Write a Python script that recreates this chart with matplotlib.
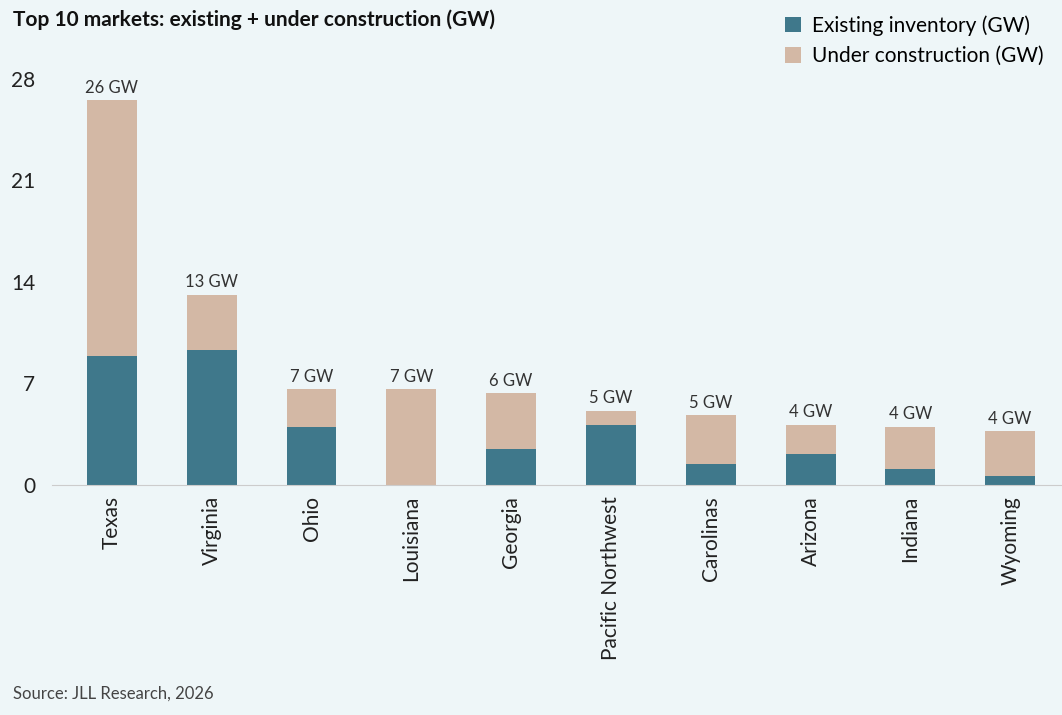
import matplotlib
matplotlib.use("Agg")
from matplotlib import pyplot as plt
import numpy as np

plt.rcParams['font.family'] = ['Lato', 'DejaVu Sans']

markets = ["Texas", "Virginia", "Ohio", "Louisiana", "Georgia", "Pacific Northwest",
           "Carolinas", "Arizona", "Indiana", "Wyoming"]
existing = [8.9, 9.3, 4.0, 0.0, 2.5, 4.1, 1.45, 2.15, 1.1, 0.6]
construction = [17.6, 3.8, 2.6, 6.6, 3.8, 1.0, 3.35, 2.0, 2.9, 3.1]
labels = ["26 GW", "13 GW", "7 GW", "7 GW", "6 GW", "5 GW", "5 GW", "4 GW", "4 GW", "4 GW"]

bg = "#eef6f8"
fig = plt.figure(figsize=(10.62, 7.15), dpi=100, facecolor=bg)
ax = fig.add_axes([0.049, 0.322, 0.9586, 0.568], facecolor=bg)

x = np.arange(len(markets))
ax.bar(x, existing, 0.5, color="#3f788b", label="Existing inventory (GW)")
ax.bar(x, construction, 0.5, bottom=existing, color="#d3b8a5", label="Under construction (GW)")
for xi, e, c, t in zip(x, existing, construction, labels):
    ax.text(xi, e + c + 0.3, t, ha="center", va="bottom", fontsize=12, color="#333333")

ax.set_ylim(0, 28)
ax.set_yticks([0, 7, 14, 21, 28])
ax.set_xlim(-0.6, 9.6)
ax.set_xticks(x)
ax.set_xticklabels(markets, rotation=90, fontsize=15, color="#222222")
ax.tick_params(axis="y", labelsize=15, length=0, colors="#222222", pad=12)
ax.tick_params(axis="x", length=0, pad=8)
for s in ["top", "right", "left"]:
    ax.spines[s].set_visible(False)
ax.spines["bottom"].set_color("#cccccc")

fig.text(0.012, 0.972, "Top 10 markets: existing + under construction (GW)",
         fontsize=15, fontweight="bold", color="#111111", va="center")
fig.legend(loc="upper right", bbox_to_anchor=(1.0, 1.005), frameon=False, fontsize=15,
           handlelength=0.8, handleheight=0.8, handletextpad=0.5, labelspacing=0.5)
fig.text(0.012, 0.03, "Source: JLL Research, 2026", fontsize=12, color="#444444", va="center")

fig.savefig("out.png", facecolor=bg)
